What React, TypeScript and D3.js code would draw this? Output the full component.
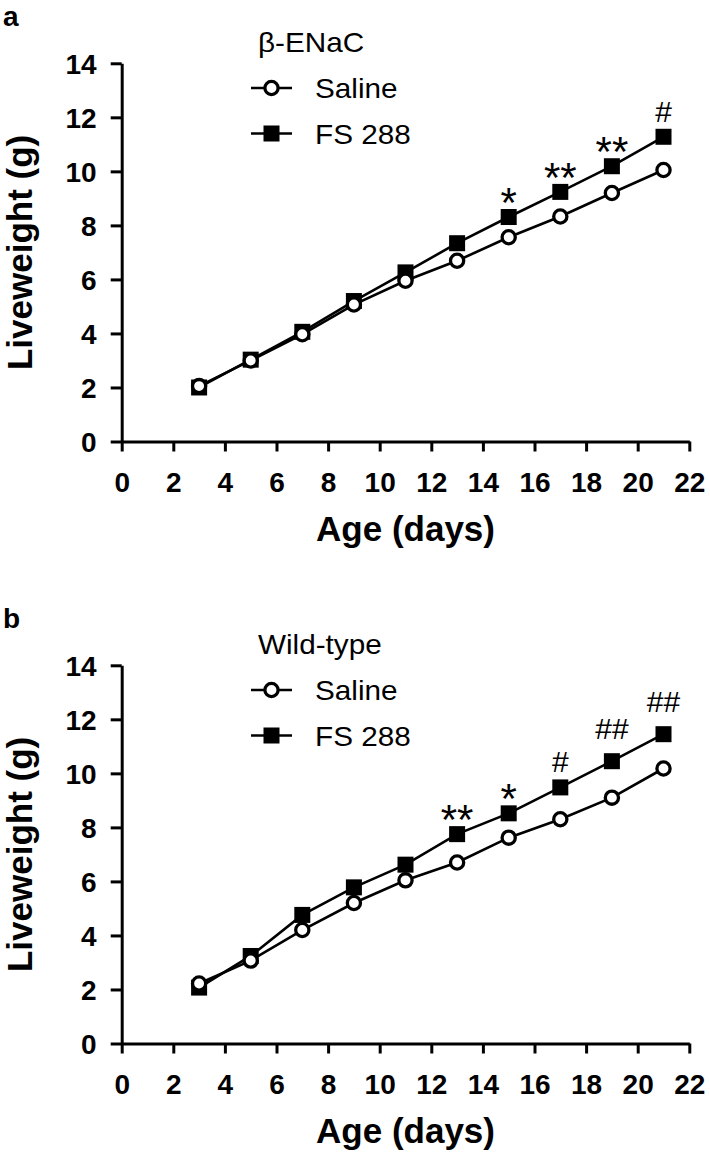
import React, { useEffect, useRef } from 'react';
import * as d3 from 'd3';

// ---------- data ----------
const days = [3, 5, 7, 9, 11, 13, 15, 17, 19, 21];
const xTicks = [0, 2, 4, 6, 8, 10, 12, 14, 16, 18, 20, 22];
const yTicks = [0, 2, 4, 6, 8, 10, 12, 14];

const salineA = [2.05, 3.0, 3.97, 5.07, 5.95, 6.69, 7.56, 8.33, 9.2, 10.05];
const fsA = [2.0, 3.03, 4.06, 5.2, 6.26, 7.34, 8.31, 9.24, 10.19, 11.28];
const annotA = ['', '', '', '', '', '', '*', '**', '**', '#'];

const salineB = [2.22, 3.07, 4.2, 5.2, 6.04, 6.7, 7.62, 8.3, 9.1, 10.18];
const fsB = [2.07, 3.24, 4.76, 5.78, 6.62, 7.75, 8.52, 9.48, 10.45, 11.45];
const annotB = ['', '', '', '', '', '**', '*', '#', '##', '##'];

const panelLetters = ['a', 'b'];
const groupTitles = ['β-ENaC', 'Wild-type'];
const seriesNames = ['Saline', 'FS 288'];
const xLabel = 'Age (days)';
const yLabel = 'Liveweight (g)';

// ---------- layout ----------
const W = 710;
const H = 1154;
const PANEL_STEP = 602;
const X0 = 121.7;
const X1 = 689.3;
const Y0 = 441.5;
const Y1 = 63.3;

const BOLD = '"Liberation Sans", Arial, sans-serif';
const PLAIN = '"Liberation Sans", Arial, sans-serif';

function liftFor(t: string) {
  if (t.startsWith('#')) return t.length > 1 ? 22 : 15;
  return 0;
}

type PanelProps = {
  top: number;
  letter: string;
  title: string;
  saline: number[];
  fs: number[];
  annot: string[];
};

function Panel({ top, letter, title, saline, fs, annot }: PanelProps) {
  const xAxisRef = useRef<SVGGElement>(null);
  const yAxisRef = useRef<SVGGElement>(null);

  const x = d3.scaleLinear().domain([0, 22]).range([X0, X1]);
  const y = d3.scaleLinear().domain([0, 14]).range([Y0, Y1]);

  useEffect(() => {
    const gx = d3.select(xAxisRef.current!);
    gx.selectAll('*').remove();
    gx.call(
      d3.axisBottom(x).tickValues(xTicks).tickSize(10).tickSizeOuter(0).tickPadding(0)
    );
    gx.selectAll('path.domain').attr('stroke', '#000').attr('stroke-width', 3);
    gx.selectAll('.tick line').attr('stroke', '#000').attr('stroke-width', 3);
    gx.selectAll('.tick text')
      .attr('y', 50)
      .attr('dy', null)
      .attr('fill', '#000')
      .style('font-family', BOLD)
      .style('font-weight', 'bold')
      .style('font-size', '28px');

    const gy = d3.select(yAxisRef.current!);
    gy.selectAll('*').remove();
    gy.call(
      d3.axisLeft(y).tickValues(yTicks).tickSize(11).tickSizeOuter(0).tickPadding(0)
    );
    gy.selectAll('path.domain').attr('stroke', '#000').attr('stroke-width', 3);
    gy.selectAll('.tick line').attr('stroke', '#000').attr('stroke-width', 3);
    gy.selectAll('.tick text')
      .attr('x', -25)
      .attr('dy', '0.35em')
      .attr('fill', '#000')
      .style('font-family', BOLD)
      .style('font-weight', 'bold')
      .style('font-size', '28px');
    gx.attr('font-family', null).attr('font-size', null);
    gy.attr('font-family', null).attr('font-size', null);
  }, []);

  const line = d3
    .line<number>()
    .x((_, i) => x(days[i]))
    .y((d) => y(d));

  const sq = 16;
  const r = 6.6;

  const legendText = (txt: string, tx: number, ty: number) => (
    <text
      transform={`translate(${tx},${ty}) scale(1.1,1)`}
      style={{ fontFamily: PLAIN, fontSize: 27 }}
    >
      {txt}
    </text>
  );

  return (
    <g transform={`translate(0,${top})`}>
      <text x={3} y={26} style={{ fontFamily: BOLD, fontWeight: 'bold', fontSize: 28 }}>
        {letter}
      </text>

      <g ref={xAxisRef} transform={`translate(0,${Y0})`} />
      <g ref={yAxisRef} transform={`translate(${X0},0)`} />

      <text
        x={(X0 + X1) / 2}
        y={541}
        textAnchor="middle"
        style={{ fontFamily: BOLD, fontWeight: 'bold', fontSize: 35 }}
      >
        {xLabel}
      </text>
      <text
        transform={`translate(32,${(Y0 + Y1) / 2}) rotate(-90)`}
        textAnchor="middle"
        style={{ fontFamily: BOLD, fontWeight: 'bold', fontSize: 35 }}
      >
        {yLabel}
      </text>

      {/* FS 288 series */}
      <path d={line(fs) || ''} fill="none" stroke="#000" strokeWidth={2.6} />
      {fs.map((v, i) => (
        <rect key={'s' + i} x={x(days[i]) - sq / 2} y={y(v) - sq / 2} width={sq} height={sq} fill="#000" />
      ))}

      {/* Saline series */}
      <path d={line(saline) || ''} fill="none" stroke="#000" strokeWidth={2.6} />
      {saline.map((v, i) => (
        <circle key={'c' + i} cx={x(days[i])} cy={y(v)} r={r} fill="#fff" stroke="#000" strokeWidth={3.3} />
      ))}

      {/* significance marks */}
      {annot.map((t, i) =>
        t ? (
          <text
            key={'a' + i}
            x={x(days[i])}
            y={y(fs[i]) - liftFor(t)}
            textAnchor="middle"
            style={{
              fontFamily: PLAIN,
              fontSize: t.startsWith('#') ? 30 : 42,
            }}
          >
            {t}
          </text>
        ) : null
      )}

      {/* legend */}
      {legendText(title, 258, 52)}
      <g transform="translate(0,88)">
        <line x1={251} x2={292} y1={0} y2={0} stroke="#000" strokeWidth={2.6} />
        <circle cx={271.5} cy={0} r={r} fill="#fff" stroke="#000" strokeWidth={3.3} />
        {legendText(seriesNames[0], 315, 10)}
      </g>
      <g transform="translate(0,133.5)">
        <line x1={251} x2={292} y1={0} y2={0} stroke="#000" strokeWidth={2.6} />
        <rect x={271.5 - sq / 2} y={-sq / 2} width={sq} height={sq} fill="#000" />
        {legendText(seriesNames[1], 315, 10)}
      </g>
    </g>
  );
}

export default function App() {
  return (
    <svg
      width={W}
      height={H}
      viewBox={`0 0 ${W} ${H}`}
      style={{ position: 'absolute', left: 0, top: 0, background: '#fff' }}
    >
      <rect x={0} y={0} width={W} height={H} fill="#fff" />
      <Panel top={0} letter={panelLetters[0]} title={groupTitles[0]} saline={salineA} fs={fsA} annot={annotA} />
      <Panel
        top={PANEL_STEP}
        letter={panelLetters[1]}
        title={groupTitles[1]}
        saline={salineB}
        fs={fsB}
        annot={annotB}
      />
    </svg>
  );
}
